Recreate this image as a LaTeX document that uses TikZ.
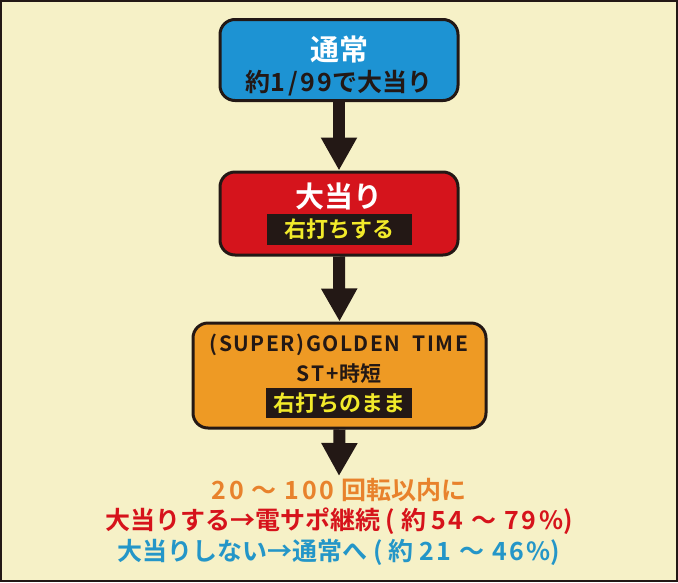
\documentclass[tikz,border=0pt]{standalone}
\usepackage{fontspec}
\setmainfont{Noto Sans CJK JP}[UprightFont=* Bold]
\usetikzlibrary{arrows.meta}

\definecolor{cream}{HTML}{F6F1C7}
\definecolor{boxblue}{HTML}{1D93D3}
\definecolor{boxred}{HTML}{D5141C}
\definecolor{boxorange}{HTML}{EE9A24}
\definecolor{inkdark}{HTML}{231815}
\definecolor{labelyellow}{HTML}{F2EA2A}
\definecolor{txtorange}{HTML}{E8822C}
\definecolor{txtred}{HTML}{D6131B}
\definecolor{txtblue}{HTML}{2496C8}

% wider latin runs
\newcommand\lat[1]{{\addfontfeature{LetterSpace=10}#1}}
\newcommand\wave{\hspace{8pt}～\hspace{8pt}}

\tikzset{
  stagebox/.style={draw=inkdark,line width=3pt,rounded corners=15pt,inner sep=0pt},
  tag/.style={fill=inkdark,text=labelyellow,font=\fontsize{22}{22}\selectfont,inner sep=0pt},
  bigarrow/.style={draw=inkdark,line width=12pt,-{Triangle[width=34pt,length=33pt]}},
  result/.style={font=\fontsize{25}{25}\selectfont}
}

\begin{document}
\begin{tikzpicture}[x=1pt,y=-1pt]
			\fill[cream] (0,0) rectangle (678,582);
			\draw[inkdark,line width=2pt] (1,1) rectangle (677,581);
			% stage boxes
			\node[stagebox,fill=boxblue,minimum width=238pt,minimum height=81pt] (normal) at (339,60) {};
			\node[stagebox,fill=boxred,minimum width=238pt,minimum height=83pt] (hit) at (339,213.5) {};
			\node[stagebox,fill=boxorange,minimum width=293pt,minimum height=105pt] (golden) at (339.5,375.5) {};
			\coordinate (result) at (339,476);
			% arrows
			\draw[bigarrow] (normal.south) -- (hit.north);
			\draw[bigarrow] (hit.south) -- (golden.north);
			\draw[bigarrow] (golden.south) -- (result);
			% texts
			\node[white,font=\fontsize{29}{29}\selectfont] (normaltitle) at (339,49) {通常};
			\node[inkdark,font=\fontsize{25}{25}\selectfont] (normalodds) at (339,83.5) {約\lat{1/99}で大当り};
			\node[white,font=\fontsize{29}{29}\selectfont] (hittitle) at (339,196.5) {大当り};
			\node[tag,minimum width=145pt,minimum height=31pt] (hittag) at (339,229.5) {右打ちする};
			\node[inkdark,font=\fontsize{21}{21}\selectfont\addfontfeature{LetterSpace=7}] (goldentitle) at (339,345) {(SUPER)GOLDEN\ \ TIME};
			\node[inkdark,font=\fontsize{21}{21}\selectfont] (goldenst) at (339,374) {\lat{ST+}時短};
			\node[tag,minimum width=146pt,minimum height=30pt] (goldentag) at (339,403) {右打ちのまま};
			\node[result,txtorange] (within) at (339,490) {\lat{20}\wave\lat{100}\hspace{7pt}回転以内に};
			\node[result,txtred] (win) at (339,521) {大当りする→電サポ継続 ( 約 \lat{54}\wave\lat{79\%})};
			\node[result,txtblue] (lose) at (339,552) {大当りしない→通常へ ( 約 \lat{21}\wave\lat{46\%})};
		\end{tikzpicture}
\end{document}
